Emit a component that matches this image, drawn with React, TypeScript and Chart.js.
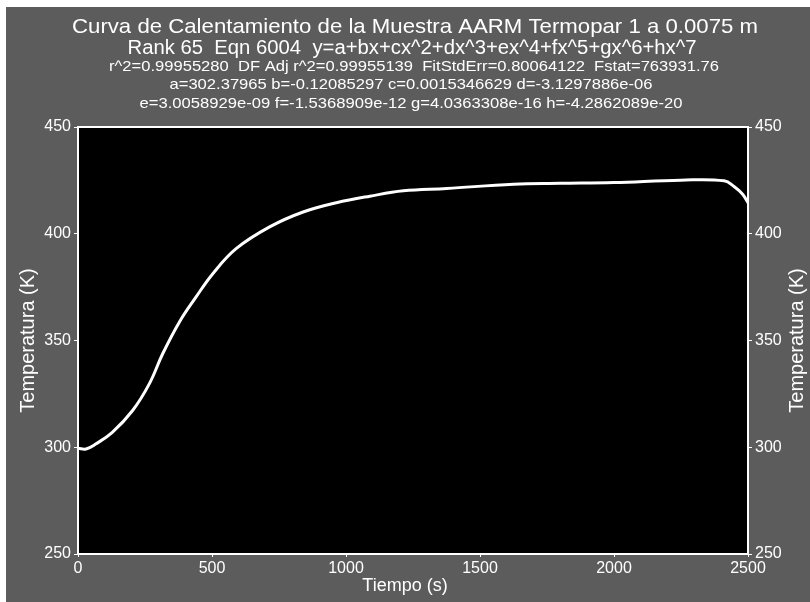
import React, { useEffect, useRef } from "react";
import { Chart, registerables } from "chart.js";
Chart.register(...registerables);

const timeS = [0, 30, 66, 128, 203, 266, 316, 378, 440, 503, 590, 715, 840, 964, 1089, 1214, 1376, 1625, 1800, 2000, 2249, 2411, 2449, 2480, 2500];
const tempK = [299.5, 299.2, 301.5, 307, 317.1, 329.7, 343.8, 358.6, 370.3, 381.3, 393, 403.2, 410.2, 414.5, 417.6, 420.1, 421.2, 423.2, 423.6, 424, 425.1, 424.8, 422, 418.5, 414.5];
const xTickValues = [0, 500, 1000, 1500, 2000, 2500];
const yTickValues = [250, 300, 350, 400, 450];
const titleLines = [
  "Curva de Calentamiento de la Muestra AARM Termopar 1 a 0.0075 m",
  "Rank 65  Eqn 6004  y=a+bx+cx^2+dx^3+ex^4+fx^5+gx^6+hx^7",
  "r^2=0.99955280  DF Adj r^2=0.99955139  FitStdErr=0.80064122  Fstat=763931.76",
  "a=302.37965 b=-0.12085297 c=0.0015346629 d=-3.1297886e-06",
  "e=3.0058929e-09 f=-1.5368909e-12 g=4.0363308e-16 h=-4.2862089e-20",
];
const xTitle = "Tiempo (s)";
const yTitle = "Temperatura (K)";

const FONT = '"Liberation Sans", Arial, sans-serif';

export default function App() {
  const ref = useRef<HTMLCanvasElement | null>(null);
  useEffect(() => {
    const canvas = ref.current!;
    const framePlugin = {
      id: "frame",
      beforeDraw(chart: any) {
        const { ctx, width, height, chartArea: a } = chart;
        ctx.save();
        ctx.fillStyle = "#ffffff";
        ctx.fillRect(0, 0, width, height);
        ctx.fillStyle = "#5c5c5c";
        ctx.fillRect(6, 7, width - 6, height - 7);
        ctx.fillStyle = "#000000";
        ctx.fillRect(a.left, a.top, a.right - a.left, a.bottom - a.top);
        ctx.restore();
      },
      afterDraw(chart: any) {
        const { ctx, chartArea: a } = chart;
        ctx.save();
        ctx.strokeStyle = "#ffffff";
        ctx.lineWidth = 2;
        ctx.beginPath();
        ctx.moveTo(a.left, a.top);
        ctx.lineTo(a.right, a.top);
        ctx.stroke();
        ctx.fillStyle = "#ffffff";
        ctx.textAlign = "center";
        ctx.textBaseline = "alphabetic";
        const specs = [
          { size: 21, y: 33, w: 686, cx: 415 },
          { size: 20, y: 54, w: 569, cx: 412 },
          { size: 14, y: 71, w: 610, cx: 414 },
          { size: 15, y: 89, w: 483, cx: 411 },
          { size: 15, y: 108, w: 543, cx: 411 },
        ];
        titleLines.forEach((t, i) => {
          const s = specs[i];
          ctx.font = `${s.size}px ${FONT}`;
          const m = ctx.measureText(t).width;
          ctx.save();
          ctx.translate(s.cx, s.y);
          ctx.scale(s.w / m, 1);
          ctx.fillText(t, 0, 0);
          ctx.restore();
        });
        ctx.font = `18px ${FONT}`;
        ctx.textBaseline = "middle";
        ctx.fillText(xTitle, 405, 586);
        ctx.font = `20px ${FONT}`;
        const cy = (a.top + a.bottom) / 2;
        [28, 797].forEach((x) => {
          ctx.save();
          ctx.translate(x, cy);
          ctx.rotate(-Math.PI / 2);
          ctx.fillText(yTitle, 0, 0);
          ctx.restore();
        });
        ctx.restore();
      },
    };
    const tickFont = { family: FONT, size: 16 };
    const fmt = (v: any) => String(v);
    const yCommon = {
      type: "linear" as const,
      min: 250,
      max: 450,
      afterBuildTicks: (s: any) => {
        s.ticks = yTickValues.map((v) => ({ value: v }));
      },
      grid: { drawOnChartArea: false, drawTicks: true, tickLength: 4, color: "#ffffff" },
      border: { display: true, color: "#ffffff", width: 2 },
      ticks: { color: "#ffffff", font: tickFont, padding: 3, callback: fmt },
    };
    const chart = new Chart(canvas, {
      type: "line",
      data: {
        datasets: [
          {
            data: timeS.map((t, i) => ({ x: t, y: tempK[i] })),
            borderColor: "#ffffff",
            borderWidth: 3,
            pointRadius: 0,
            tension: 0.4,
            fill: false,
          },
        ],
      },
      options: {
        animation: false,
        responsive: false,
        devicePixelRatio: 1,
        layout: { padding: { top: 127, left: 0, right: 0, bottom: 0 } },
        plugins: { legend: { display: false }, tooltip: { enabled: false }, title: { display: false } },
        scales: {
          x: {
            type: "linear",
            min: 0,
            max: 2500,
            afterBuildTicks: (s: any) => {
              s.ticks = xTickValues.map((v) => ({ value: v }));
            },
            afterFit: (s: any) => {
              s.height = 48;
            },
            grid: { drawOnChartArea: false, drawTicks: true, tickLength: 3, color: "#ffffff" },
            border: { display: true, color: "#ffffff", width: 2 },
            ticks: { color: "#ffffff", font: tickFont, padding: 2, maxRotation: 0, callback: fmt },
          },
          y: {
            ...yCommon,
            position: "left",
            afterFit: (s: any) => {
              s.width = 78;
            },
          },
          y2: {
            ...yCommon,
            position: "right",
            afterFit: (s: any) => {
              s.width = 62;
            },
          },
        },
      },
      plugins: [framePlugin],
    } as any);
    return () => chart.destroy();
  }, []);
  return (
    <div style={{ position: "fixed", left: 0, top: 0, width: 810, height: 602 }}>
      <canvas ref={ref} width={810} height={602} style={{ display: "block", width: 810, height: 602 }} />
    </div>
  );
}
